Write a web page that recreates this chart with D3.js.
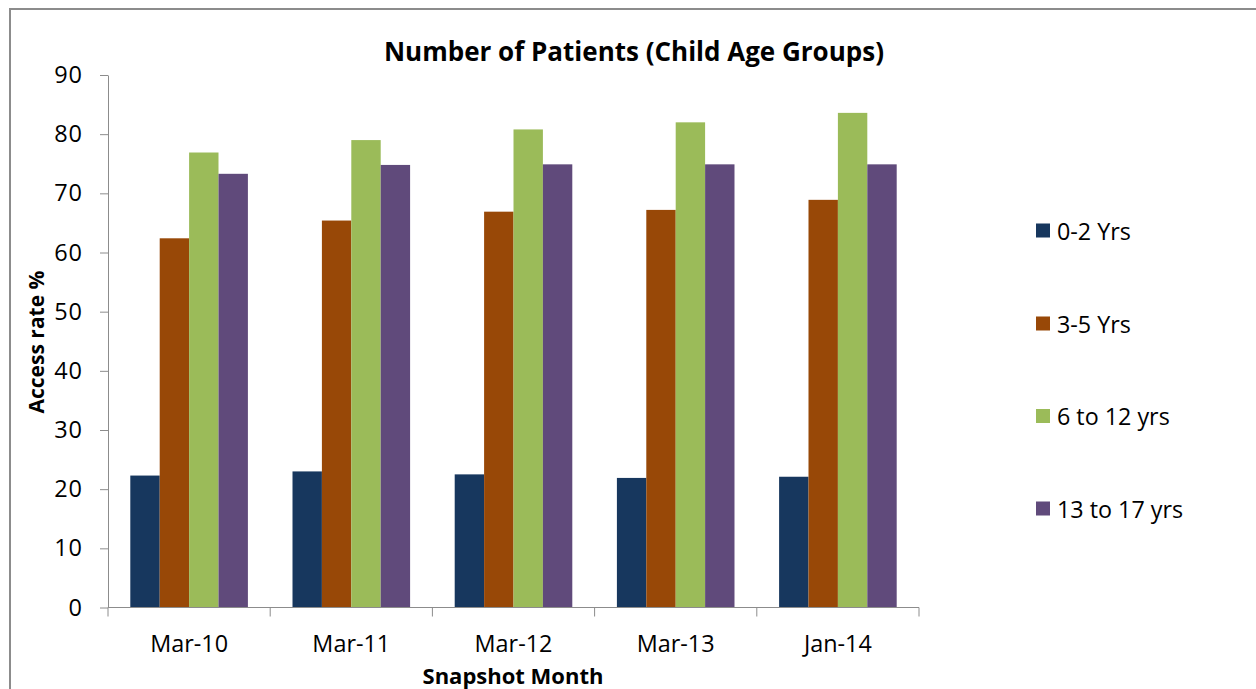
<!DOCTYPE html>
<html>
<head>
<meta charset="utf-8">
<script src="https://cdn.jsdelivr.net/npm/d3@7"></script>
<style>
  html, body { margin: 0; padding: 0; background: #fff; }
  svg { display: block; }
  text { font-family: "Open Sans", Lato, sans-serif; fill: #000; }
</style>
</head>
<body>
<svg id="chart" width="1256" height="689"></svg>
<script>
// Snapshot months and age groups
const months = ["Mar-10", "Mar-11", "Mar-12", "Mar-13", "Jan-14"];
const groups = ["0-2 Yrs", "3-5 Yrs", "6 to 12 yrs", "13 to 17 yrs"];
const colors = ["#17375E", "#984807", "#9BBB59", "#604A7B"];

// Access rate % per age group, one value per month
const age0to2   = [22.3, 23.0, 22.5, 21.9, 22.1];
const age3to5   = [62.4, 65.4, 66.9, 67.2, 68.9];
const age6to12  = [76.9, 79.0, 80.8, 82.0, 83.6];
const age13to17 = [73.3, 74.8, 74.9, 74.9, 74.9];
const series = [age0to2, age3to5, age6to12, age13to17];

const yTicks = [0, 10, 20, 30, 40, 50, 60, 70, 80, 90];

const svg = d3.select("#chart");
const W = 1256, H = 689;
const plot = { left: 108, right: 919, top: 75, bottom: 607.5 };
const FONT = "'Open Sans', Lato, sans-serif";

// frame around the chart area
svg.append("rect")
  .attr("x", 10).attr("y", 9)
  .attr("width", W + 10).attr("height", H + 10)
  .attr("fill", "#fff").attr("stroke", "#8c8c8c").attr("stroke-width", 2);

const x0 = d3.scaleBand().domain(months).range([plot.left, plot.right])
  .paddingInner(0.275).paddingOuter(0.1375);
const x1 = d3.scaleBand().domain(d3.range(groups.length)).range([0, x0.bandwidth()]);
const y = d3.scaleLinear().domain([0, 90]).range([plot.bottom, plot.top]);

// bars
const g = svg.append("g");
months.forEach((m, i) => {
  g.selectAll(null)
    .data(series.map((s, k) => ({ k, v: s[i] })))
    .join("rect")
    .attr("x", d => x0(m) + x1(d.k))
    .attr("y", d => y(d.v))
    .attr("width", x1.bandwidth())
    .attr("height", d => y(0) - y(d.v))
    .attr("fill", d => colors[d.k]);
});

// y axis
const yAxis = svg.append("g")
  .attr("transform", `translate(${plot.left},0)`)
  .call(d3.axisLeft(y).tickValues(yTicks).tickSize(8).tickPadding(17).tickSizeOuter(0));
yAxis.select(".domain").attr("stroke", "#8c8c8c");
yAxis.selectAll(".tick line").attr("stroke", "#8c8c8c");
yAxis.selectAll("text").attr("font-size", 23.5).attr("fill", "#000")
  .attr("font-family", FONT).attr("letter-spacing", 1);

// x axis with ticks on band boundaries
const xAxis = svg.append("g").attr("transform", `translate(0,${plot.bottom})`);
xAxis.append("line")
  .attr("x1", plot.left).attr("x2", plot.right)
  .attr("stroke", "#8c8c8c");
const step = x0.step();
const bounds = d3.range(months.length + 1).map(i => x0(months[0]) - x0.paddingOuter() * step + i * step);
xAxis.selectAll(".bt").data(bounds).join("line")
  .attr("x1", d => d).attr("x2", d => d).attr("y1", 0).attr("y2", 9)
  .attr("stroke", "#8c8c8c");
xAxis.selectAll(".xl").data(months).join("text")
  .attr("x", d => x0(d) + x0.bandwidth() / 2)
  .attr("y", 44)
  .attr("text-anchor", "middle")
  .attr("font-size", 23.4)
  .text(d => d);

// title and axis titles
svg.append("text")
  .attr("x", 634).attr("y", 61)
  .attr("text-anchor", "middle")
  .attr("font-size", 26).attr("font-weight", "bold")
  .text("Number of Patients (Child Age Groups)");

svg.append("text")
  .attr("x", 513).attr("y", 684)
  .attr("text-anchor", "middle")
  .attr("font-size", 22).attr("font-weight", "bold")
  .text("Snapshot Month");

svg.append("text")
  .attr("transform", "translate(44,342) rotate(-90)")
  .attr("text-anchor", "middle")
  .attr("font-size", 21).attr("font-weight", "bold")
  .text("Access rate %");

// legend
const legend = svg.append("g");
const rowTop = [223.5, 316.5, 409, 501.5];
groups.forEach((name, k) => {
  legend.append("rect")
    .attr("x", 1036).attr("y", rowTop[k])
    .attr("width", 14).attr("height", 14)
    .attr("fill", colors[k]);
  legend.append("text")
    .attr("x", 1057).attr("y", rowTop[k] + 16)
    .attr("font-size", 23.3)
    .text(name);
});
</script>
</body>
</html>
